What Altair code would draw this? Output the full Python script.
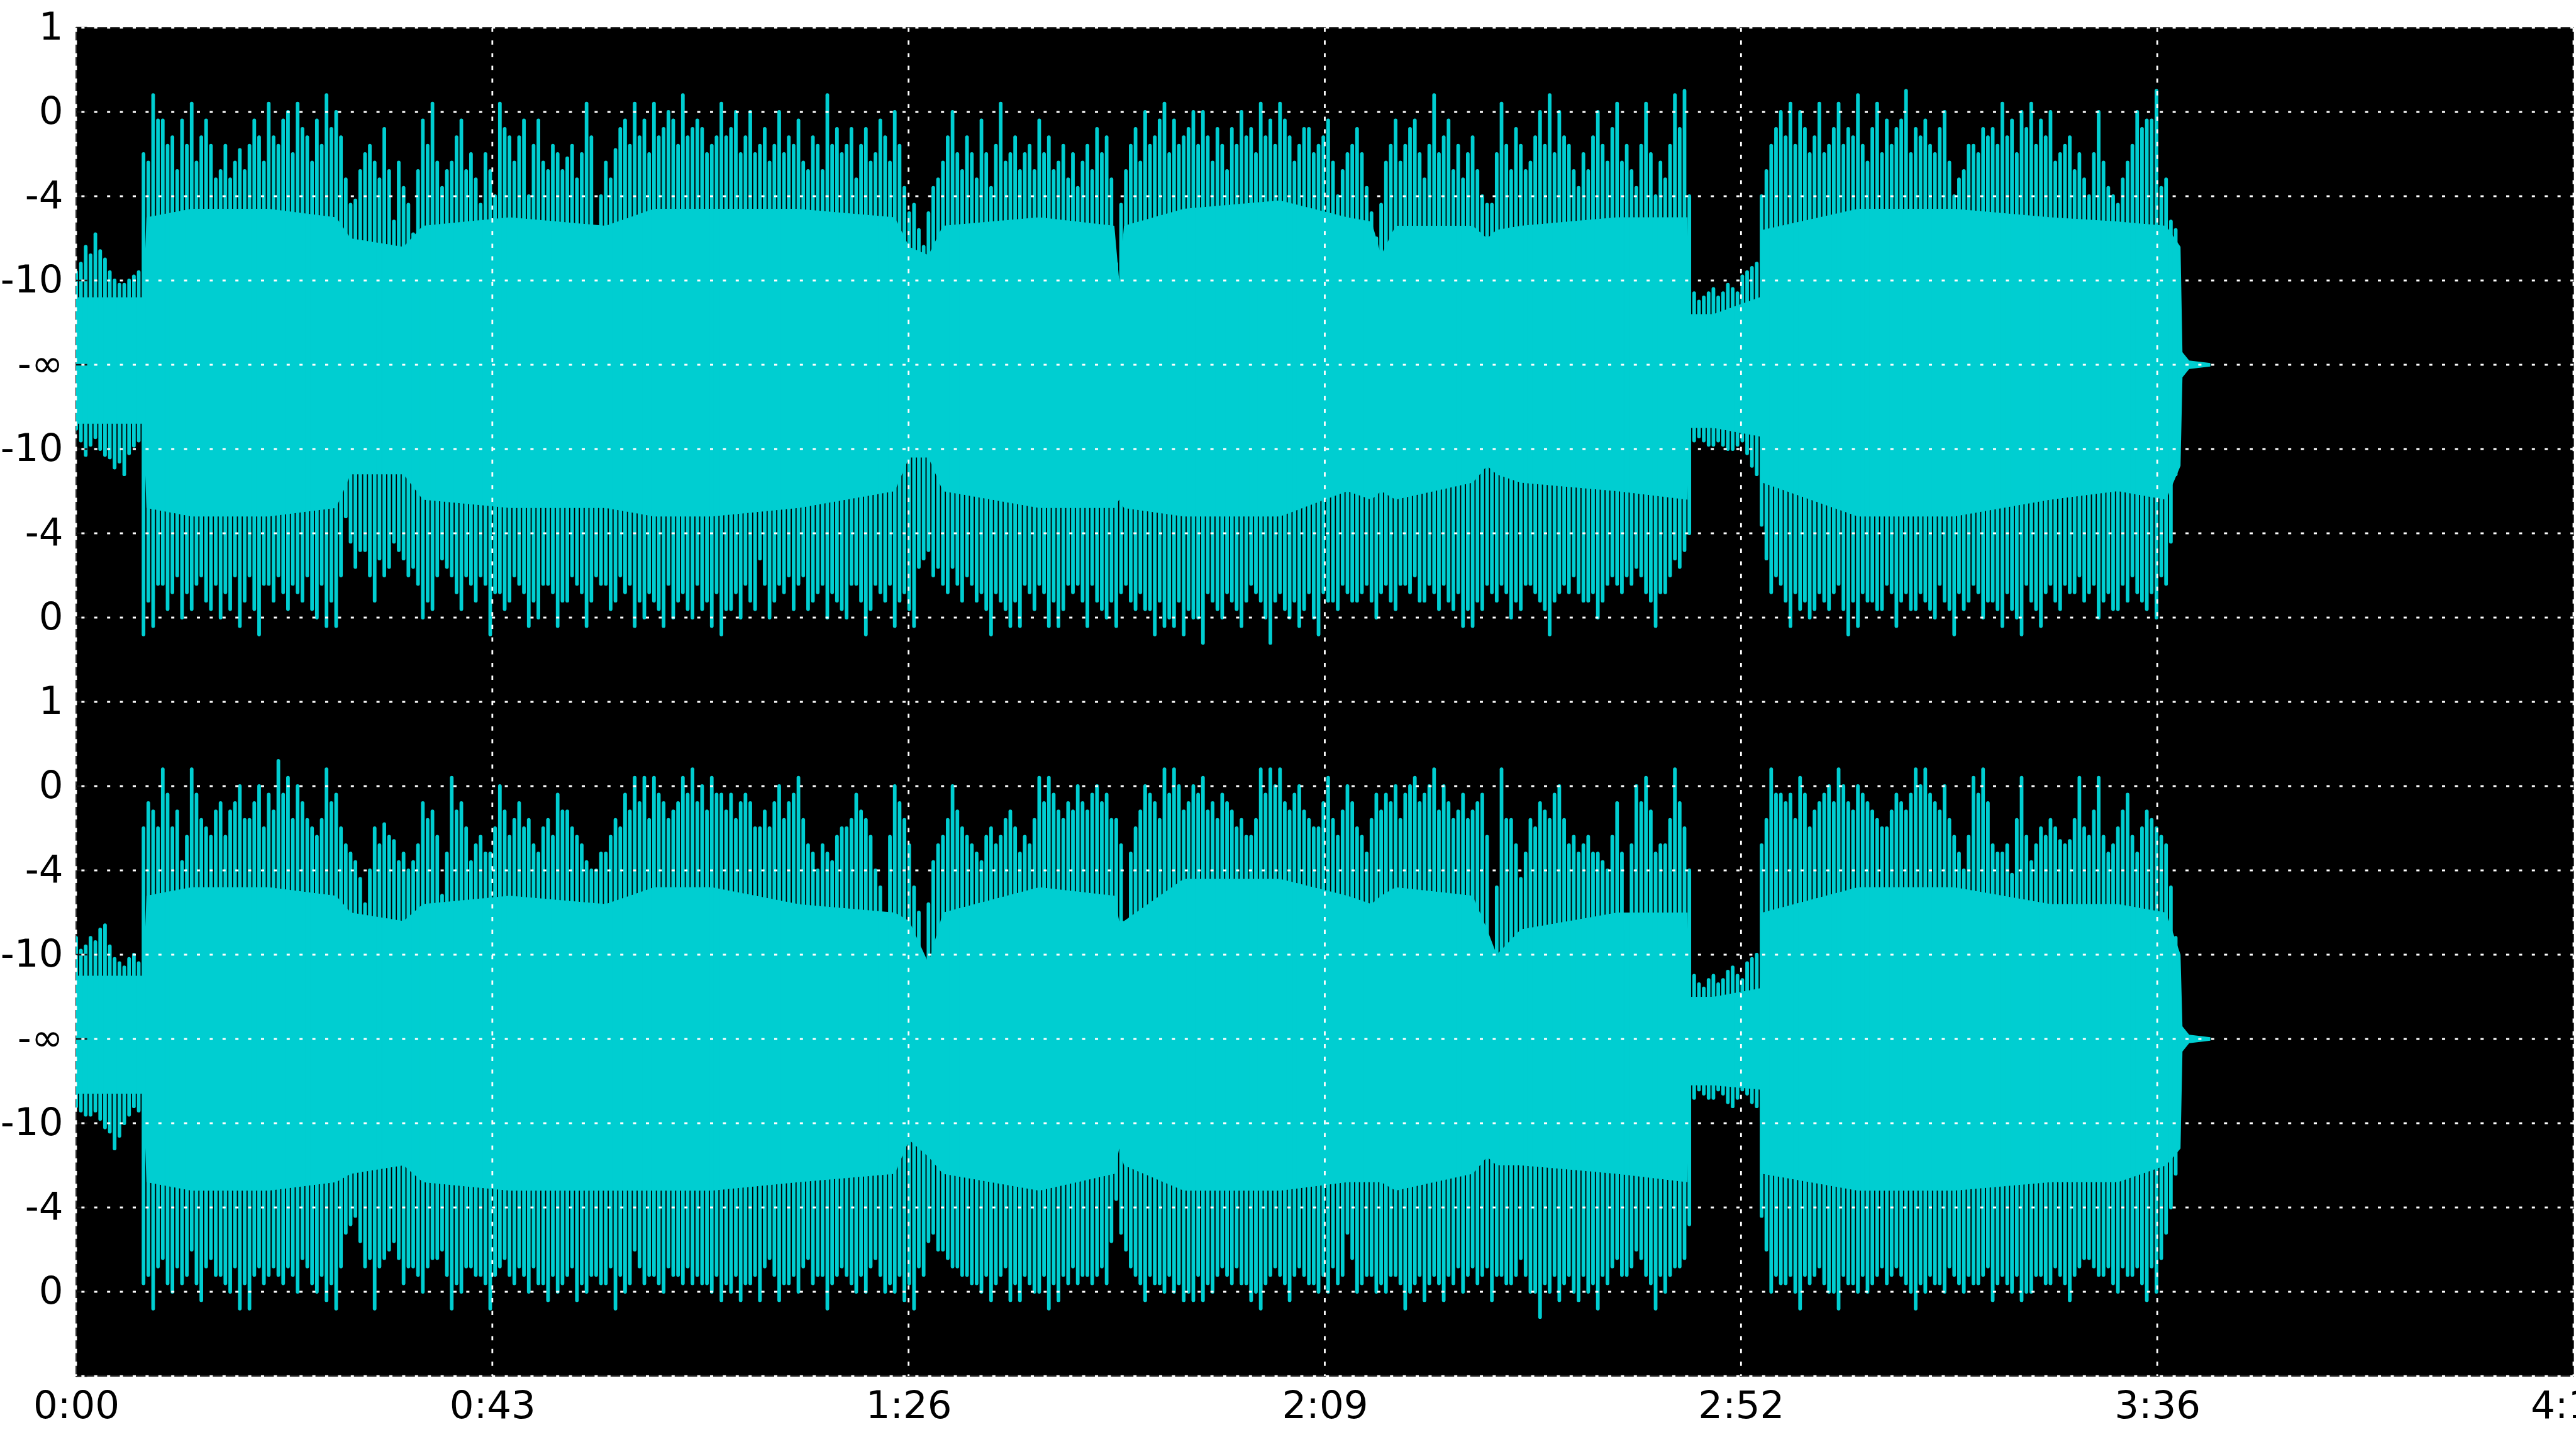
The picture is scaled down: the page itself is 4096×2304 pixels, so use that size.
import altair as alt
import pandas as pd

# ---------------- axes / layout constants ----------------
DURATION = 259.3  # seconds shown on the time axis
X_TICK_LABELS = ["0:00", "0:43", "1:26", "2:09", "2:52", "3:36", "4:19"]
Y_TICK_LABELS = ["", "0", "-4", "-10", "-∞", "-10", "-4", "0",
                 "1", "0", "-4", "-10", "-∞", "-10", "-4", "0", "1"]
CENTER_TOP = 12   # channel 1 centre line (-∞)
CENTER_BOT = 4    # channel 2 centre line (-∞)
CYAN = "#00CED1"

# ---------------- body envelope (solid part of the waveform) ----------------
BODY_T = [0, 7.0, 7.3, 12, 20, 27, 28.5, 34, 36, 45, 55, 60, 66, 75, 85, 86.5, 88.5, 90,
          100, 107.8, 108.3, 108.8, 115, 125, 132, 134.5, 135.5, 137, 145, 146.5, 147.5,
          150, 160, 167.3, 167.6, 170, 174.8, 175.1, 185, 195, 205, 212, 217, 218.5,
          218.7, 219.4, 221.6]
TOP_BODY_UP = [0.8, 0.8, 1.75, 1.85, 1.85, 1.75, 1.5, 1.4, 1.65, 1.75, 1.65, 1.85, 1.85,
               1.85, 1.75, 1.4, 1.3, 1.65, 1.75, 1.65, 1.0, 1.65, 1.85, 1.95, 1.75, 1.7,
               1.3, 1.65, 1.65, 1.5, 1.6, 1.65, 1.75, 1.75, 0.6, 0.6, 0.8, 1.6, 1.85, 1.85,
               1.75, 1.7, 1.65, 1.4, 0.15, 0.05, 0.02]
TOP_BODY_DN = [0.7, 0.7, 1.7, 1.8, 1.8, 1.7, 1.3, 1.3, 1.6, 1.7, 1.7, 1.8, 1.8, 1.7, 1.5,
               1.1, 1.1, 1.5, 1.7, 1.7, 1.6, 1.7, 1.8, 1.8, 1.5, 1.6, 1.5, 1.6, 1.4, 1.2,
               1.3, 1.4, 1.5, 1.6, 0.75, 0.75, 0.85, 1.4, 1.8, 1.8, 1.6, 1.5, 1.6, 1.2, 0.15,
               0.05, 0.02]
BOT_BODY_UP = [0.75, 0.75, 1.7, 1.8, 1.8, 1.7, 1.5, 1.4, 1.6, 1.7, 1.6, 1.8, 1.8, 1.6, 1.5,
               1.4, 0.9, 1.5, 1.8, 1.7, 1.4, 1.4, 1.9, 1.9, 1.7, 1.6, 1.7, 1.8, 1.7, 1.3,
               1.0, 1.3, 1.5, 1.5, 0.5, 0.5, 0.6, 1.5, 1.8, 1.8, 1.6, 1.6, 1.5, 1.0, 0.15,
               0.05, 0.02]
BOT_BODY_DN = [0.65, 0.65, 1.7, 1.8, 1.8, 1.7, 1.6, 1.5, 1.7, 1.8, 1.8, 1.8, 1.8, 1.7, 1.6,
               1.2, 1.4, 1.6, 1.8, 1.6, 1.3, 1.5, 1.8, 1.8, 1.7, 1.7, 1.7, 1.8, 1.6, 1.4,
               1.5, 1.5, 1.6, 1.7, 0.55, 0.55, 0.6, 1.6, 1.8, 1.8, 1.7, 1.7, 1.5, 1.3, 0.15,
               0.05, 0.02]

# ---------------- peaks read on whole seconds (segments start at 0, 67, 133, 199 s) ----
SEG_START = [0, 67, 133, 199]

TOP_UP = [
    [1.1, 1.4, 1.55, 1.25, 1.0, 0.95, 1.05,
     2.5, 3.2, 2.9, 2.7, 2.9, 3.1, 2.7, 2.6, 2.3, 2.2, 2.55, 2.6, 2.7, 3.1, 2.6, 3.0, 3.1,
     2.7, 2.9, 3.2, 3.0, 2.2, 1.95, 2.5, 2.4, 2.8, 1.7, 2.1, 1.55, 2.9, 3.1, 2.1, 2.4, 2.9,
     2.5, 1.9, 2.3, 3.1, 2.7, 2.7, 2.0, 2.9, 2.3, 2.5, 2.45, 2.2, 3.1, 1.3, 2.4, 2.55, 2.9,
     3.1, 2.9, 3.1, 2.8, 2.9, 3.2, 2.8, 2.8, 2.6],
    [3.1, 2.8, 2.5, 3.0, 2.6, 2.4, 3.0, 2.7, 2.9, 2.3, 2.6, 3.2, 2.8, 2.6, 2.2, 2.8, 2.5,
     2.7, 3.0, 2.1, 1.9, 1.4, 2.1, 2.4, 3.0, 2.3, 2.5, 2.9, 2.1, 3.1, 2.5, 2.3, 2.6, 2.9,
     2.7, 2.4, 2.2, 2.1, 2.6, 2.8, 2.7, 1.2, 2.3, 2.8, 3.0, 2.7, 3.1, 2.9, 2.7, 3.0, 3.0,
     2.4, 2.6, 2.8, 3.0, 2.8, 3.1, 2.9, 3.1, 2.7, 2.6, 2.8, 2.6, 2.9, 2.0, 2.5],
    [2.8, 2.1, 1.5, 2.4, 2.9, 2.6, 2.9, 2.2, 3.2, 2.7, 2.3, 2.2, 2.7, 2.0, 1.9, 3.1, 2.3,
     2.6, 2.4, 3.0, 3.2, 3.0, 2.6, 2.1, 2.3, 3.0, 2.4, 3.1, 2.6, 2.1, 3.1, 2.0, 2.2, 3.2,
     3.25, 0.85, 0.8, 0.9, 0.85, 0.9, 1.05, 1.15, 2.0, 2.6, 3.0, 3.1, 3.0, 2.5, 3.1, 2.6,
     3.1, 2.8, 3.2, 2.4, 3.1, 2.9, 2.8, 3.25, 2.8, 2.9, 2.5, 3.0, 2.0, 2.3, 2.6, 2.8],
    [2.8, 3.1, 2.9, 3.0, 3.1, 2.9, 3.0, 2.5, 2.7, 2.5, 2.0, 3.0, 2.1, 1.9, 2.4, 3.0, 2.9,
     3.25, 2.2, 1.6],
]
TOP_DN = [
    [0.76, 1.07, 0.86, 1.07, 1.22, 1.3, 0.96,
     3.2, 3.1, 2.6, 2.7, 3.0, 2.9, 2.5, 2.9, 3.0, 2.9, 3.1, 2.5, 3.2, 2.6, 2.5, 2.9, 2.7,
     2.5, 3.0, 3.1, 3.1, 1.8, 2.4, 2.2, 2.8, 2.5, 2.1, 2.3, 2.4, 3.0, 2.9, 2.3, 2.5, 2.9,
     2.6, 2.5, 3.2, 2.7, 2.8, 2.6, 3.1, 3.0, 2.6, 3.1, 2.8, 2.6, 3.1, 2.5, 2.6, 2.8, 2.7,
     3.1, 3.0, 2.8, 3.1, 3.0, 2.7, 3.0, 2.9, 3.1],
    [3.2, 2.9, 3.0, 2.8, 2.3, 3.0, 2.6, 2.5, 2.6, 2.9, 2.7, 3.0, 2.8, 3.0, 2.6, 3.2, 2.6,
     2.8, 3.1, 2.7, 3.1, 2.3, 2.5, 2.6, 2.4, 2.8, 2.6, 2.7, 3.2, 2.8, 3.1, 3.1, 2.7, 2.6,
     3.1, 3.1, 2.6, 2.6, 3.1, 2.8, 3.0, 3.1, 2.6, 2.9, 2.9, 3.2, 3.1, 3.1, 3.2, 3.0, 3.3,
     2.8, 3.0, 2.8, 3.1, 2.6, 2.8, 3.3, 2.7, 3.0, 3.1, 2.7, 3.2, 2.8, 2.9, 2.7],
    [2.8, 2.6, 3.0, 2.6, 2.9, 2.6, 2.5, 2.8, 2.7, 2.6, 2.9, 3.1, 3.1, 2.9, 2.7, 2.6, 3.0,
     2.9, 2.6, 2.8, 3.2, 2.7, 2.7, 2.7, 2.8, 3.0, 2.6, 2.6, 2.5, 2.4, 2.7, 3.1, 2.7, 2.3,
     2.2, 0.9, 0.9, 0.95, 0.95, 1.0, 0.9, 1.2, 1.9, 2.7, 2.6, 3.1, 2.9, 3.0, 2.7, 2.9, 2.6,
     3.2, 3.1, 2.8, 2.9, 2.6, 3.1, 2.7, 2.9, 2.8, 3.0, 2.8, 3.2, 2.9, 2.6, 3.0],
    [2.8, 3.1, 2.9, 3.2, 2.8, 3.1, 2.6, 2.9, 2.7, 2.5, 2.7, 3.0, 2.7, 2.9, 2.8, 2.7, 2.9,
     3.0, 2.6, 1.3],
]
BOT_UP = [
    [1.2, 1.1, 1.15, 1.35, 0.95, 0.85, 1.0,
     2.5, 2.7, 3.2, 2.5, 2.1, 3.2, 2.6, 2.4, 2.8, 2.7, 3.0, 2.6, 3.0, 2.9, 3.3, 3.1, 3.0,
     2.6, 2.4, 3.2, 2.9, 2.3, 2.1, 1.6, 2.5, 2.55, 2.35, 2.2, 2.1, 2.8, 2.7, 1.7, 3.1, 2.8,
     2.1, 2.4, 2.2, 3.0, 2.4, 2.8, 2.6, 2.2, 2.6, 2.9, 2.7, 2.4, 2.1, 2.0, 2.2, 2.6, 2.9,
     3.1, 3.1, 3.1, 2.8, 2.7, 3.1, 3.2, 3.0, 3.1],
    [2.9, 2.9, 2.8, 2.8, 2.5, 2.5, 3.0, 2.8, 3.1, 2.3, 2.0, 2.2, 2.4, 2.5, 2.9, 2.6, 2.0,
     1.2, 3.0, 2.6, 1.8, 0.8, 2.1, 2.4, 3.0, 2.5, 2.3, 2.1, 2.5, 2.4, 2.7, 2.2, 2.3, 3.1,
     3.1, 2.7, 2.8, 3.0, 2.7, 3.0, 2.9, 2.6, 1.3, 2.5, 3.0, 2.8, 3.2, 3.2, 2.7, 3.0, 3.1,
     2.8, 2.9, 2.7, 2.6, 2.4, 3.2, 3.2, 3.2, 2.7, 3.0, 2.6, 2.5, 3.1, 2.4, 3.0],
    [2.5, 2.2, 2.9, 2.9, 3.0, 2.9, 3.1, 2.9, 3.2, 3.0, 2.6, 2.9, 2.7, 2.9, 0.9, 3.2, 2.6,
     1.9, 2.6, 2.8, 2.6, 3.0, 2.3, 2.2, 2.4, 2.2, 2.0, 2.8, 1.3, 3.0, 3.1, 2.2, 2.3, 3.2,
     2.5, 0.75, 0.6, 0.75, 0.7, 0.85, 0.7, 0.95, 2.3, 3.2, 2.9, 2.9, 3.1, 2.5, 2.8, 3.0,
     3.2, 2.8, 3.0, 2.8, 2.6, 2.5, 2.9, 2.7, 3.2, 3.2, 2.8, 3.0, 2.4, 2.0, 3.1, 3.2],
    [2.3, 2.2, 1.95, 3.1, 2.1, 2.5, 2.6, 2.35, 2.35, 3.1, 2.4, 3.1, 2.2, 2.5, 2.9, 2.2, 2.7,
     2.5, 2.3, 1.2],
]
BOT_DN = [
    [0.8, 0.9, 0.85, 1.05, 1.3, 1.0, 0.8,
     2.9, 3.2, 2.6, 3.0, 2.9, 2.5, 3.1, 2.6, 2.8, 3.0, 3.2, 3.2, 2.7, 2.8, 2.8, 2.7, 3.0,
     2.7, 3.0, 3.1, 3.2, 2.3, 2.1, 2.7, 3.2, 2.6, 2.4, 2.9, 2.7, 3.0, 2.6, 2.5, 3.2, 3.0,
     2.7, 2.8, 3.2, 2.7, 2.8, 2.7, 3.0, 2.9, 3.1, 3.0, 2.8, 3.1, 3.0, 2.8, 2.9, 3.2, 3.0,
     2.5, 2.9, 2.8, 3.0, 2.8, 2.9, 2.9, 2.9, 3.0],
    [3.1, 3.0, 3.1, 2.9, 3.1, 2.6, 3.1, 2.9, 3.0, 2.6, 2.8, 3.2, 2.8, 2.8, 3.0, 3.0, 2.6,
     3.0, 3.0, 3.1, 3.2, 2.8, 2.3, 2.5, 2.7, 2.8, 2.9, 3.0, 3.1, 2.8, 3.1, 3.1, 2.9, 3.0,
     3.2, 3.1, 2.9, 2.9, 2.8, 2.8, 2.9, 1.9, 2.5, 2.8, 3.1, 2.9, 3.0, 3.0, 3.1, 3.1, 3.1,
     3.0, 2.7, 2.9, 2.9, 3.1, 3.2, 2.8, 2.8, 3.1, 2.7, 2.9, 3.0, 3.0, 2.9, 2.3],
    [3.0, 2.8, 3.0, 3.0, 2.8, 3.2, 2.9, 3.1, 2.8, 3.1, 2.9, 3.0, 2.7, 2.8, 3.1, 2.8, 2.9,
     2.6, 3.0, 3.3, 3.0, 3.1, 2.8, 3.1, 3.0, 3.2, 2.9, 2.6, 2.8, 2.5, 2.8, 3.2, 3.0, 2.7,
     2.6, 0.7, 0.65, 0.7, 0.65, 0.8, 0.6, 0.75, 2.1, 3.0, 2.9, 2.8, 3.2, 2.9, 2.7, 3.0,
     3.2, 2.9, 3.0, 3.0, 2.8, 2.9, 2.7, 2.9, 3.2, 3.0, 2.9, 3.0, 2.8, 3.0, 2.9, 2.8],
    [3.1, 2.8, 3.0, 3.1, 3.0, 2.8, 2.9, 2.8, 3.1, 2.7, 2.6, 2.8, 2.7, 3.0, 2.8, 2.7, 3.1,
     3.0, 2.3, 1.6],
]

# ---------------- peaks read on half seconds (segments start at 0.5, 67.5, 133.5, 199.5 s) ----
SEG_START_HALF = [0.5, 67.5, 133.5, 199.5]

TOP_UP_HALF = [
    [1.2, 1.3, 1.35, 1.1, 0.95, 1.0, 1.1,
     2.4, 2.9, 2.6, 2.3, 2.6, 2.4, 2.9, 2.2, 2.6, 2.4, 2.3, 2.9, 2.4, 2.7, 2.9, 2.5, 2.8,
     2.4, 2.6, 2.8, 2.7, 1.9, 2.3, 2.6, 2.2, 2.3, 2.4, 1.9, 2.3, 2.6, 2.4, 2.3, 2.7, 2.3,
     2.2, 2.5, 2.0, 2.8, 2.4, 2.9, 2.6, 2.4, 2.6, 2.3, 2.6, 2.5, 2.7, 2.0, 2.2, 2.8, 2.6,
     2.7, 2.5, 2.7, 3.0, 2.6, 2.7, 2.9, 2.5, 2.7],
    [2.7, 3.0, 2.7, 2.5, 2.8, 2.6, 2.5, 2.6, 2.4, 2.7, 2.3, 2.6, 2.5, 2.8, 2.6, 2.4, 2.9,
     2.4, 2.6, 1.8, 1.6, 1.8, 2.2, 2.7, 2.5, 2.7, 2.2, 2.5, 2.6, 2.4, 2.7, 2.5, 2.3, 2.5,
     2.3, 2.6, 2.5, 2.4, 2.3, 2.5, 2.2, 1.9, 2.6, 2.4, 2.6, 2.9, 2.5, 2.6, 2.8, 2.6, 2.7,
     2.8, 2.3, 2.6, 2.7, 2.5, 2.7, 2.6, 2.9, 2.4, 2.8, 2.5, 2.7, 2.4, 2.3, 2.6],
    [2.5, 1.8, 1.9, 2.6, 2.4, 2.8, 2.5, 2.6, 2.5, 2.9, 2.6, 2.5, 2.3, 1.9, 2.5, 2.6, 2.8,
     2.3, 2.7, 2.6, 2.5, 2.7, 2.3, 2.5, 2.7, 2.6, 2.8, 2.4, 2.3, 2.6, 2.5, 2.4, 2.6, 2.8,
     2.0, 0.75, 0.85, 0.8, 0.95, 0.85, 1.1, 1.2, 2.3, 2.8, 2.7, 2.6, 2.8, 2.7, 2.5, 2.8,
     2.6, 2.7, 2.6, 2.8, 2.5, 2.6, 2.9, 2.5, 2.7, 2.6, 2.8, 2.4, 2.2, 2.6, 2.5, 2.7],
    [2.6, 2.7, 2.5, 2.8, 2.6, 2.7, 2.4, 2.6, 2.3, 2.2, 2.5, 2.4, 2.0, 2.2, 2.6, 2.8, 2.9,
     2.1, 1.7],
]
TOP_DN_HALF = [
    [0.9, 0.95, 1.0, 1.1, 1.15, 1.05, 0.9,
     2.8, 2.6, 2.9, 2.5, 2.7, 2.6, 2.8, 2.6, 2.7, 2.5, 2.8, 2.9, 2.6, 2.8, 2.7, 2.6, 2.8,
     2.9, 2.6, 2.8, 2.5, 2.1, 2.2, 2.5, 2.3, 2.4, 2.2, 2.5, 2.6, 2.8, 2.5, 2.4, 2.7, 2.5,
     2.8, 2.6, 2.7, 2.9, 2.5, 2.7, 2.8, 2.6, 2.7, 2.8, 2.5, 2.7, 2.8, 2.6, 2.9, 2.5, 2.6,
     2.8, 2.7, 2.9, 2.6, 2.8, 2.9, 2.6, 2.8, 2.7],
    [2.9, 2.7, 2.6, 2.9, 2.6, 2.8, 2.7, 2.9, 2.5, 2.8, 2.6, 2.7, 2.9, 2.6, 2.8, 2.9, 2.7,
     2.6, 2.8, 2.9, 2.4, 2.2, 2.4, 2.7, 2.6, 2.5, 2.8, 2.9, 2.7, 2.9, 2.8, 2.6, 2.9, 2.7,
     2.8, 2.9, 2.7, 2.8, 2.6, 2.9, 2.8, 2.7, 2.8, 2.7, 2.9, 2.8, 3.0, 2.8, 2.9, 3.0, 2.7,
     2.9, 2.7, 2.9, 2.8, 2.7, 3.0, 2.8, 2.9, 2.8, 2.9, 3.0, 2.7, 2.8, 2.6, 2.8],
    [2.7, 2.8, 2.7, 2.8, 2.6, 2.7, 2.8, 2.6, 2.9, 2.8, 2.7, 2.9, 2.8, 2.6, 2.8, 2.7, 2.8,
     2.6, 2.7, 2.9, 2.8, 2.6, 2.5, 2.8, 2.7, 2.8, 2.5, 2.7, 2.6, 2.5, 2.8, 2.7, 2.5, 2.4,
     2.0, 0.85, 0.95, 0.9, 1.0, 0.95, 1.05, 1.3, 2.3, 2.5, 2.8, 2.7, 2.8, 2.9, 2.8, 2.7,
     2.9, 2.8, 2.7, 2.8, 2.9, 2.7, 2.8, 2.9, 2.7, 2.9, 2.6, 2.9, 2.7, 2.8, 2.7, 2.8],
    [2.9, 2.7, 3.0, 2.6, 2.9, 2.7, 2.8, 2.6, 2.7, 2.8, 2.6, 2.8, 2.9, 2.6, 2.5, 2.8, 2.7,
     2.5, 2.1],
]
BOT_UP_HALF = [
    [1.05, 1.2, 1.3, 1.1, 0.9, 0.95, 0.9,
     2.8, 2.5, 2.9, 2.7, 2.4, 2.9, 2.5, 2.7, 2.4, 2.8, 2.6, 2.8, 2.5, 2.7, 2.9, 2.6, 2.8,
     2.5, 2.6, 2.8, 2.5, 2.2, 1.9, 2.0, 2.3, 2.4, 2.1, 2.0, 2.3, 2.6, 2.4, 2.2, 2.7, 2.5,
     2.3, 2.2, 2.5, 2.7, 2.6, 2.5, 2.3, 2.5, 2.4, 2.7, 2.5, 2.3, 2.0, 2.2, 2.4, 2.5, 2.7,
     2.8, 2.6, 2.9, 2.6, 2.8, 2.9, 2.8, 2.7, 2.9],
    [2.7, 2.6, 2.9, 2.5, 2.7, 2.8, 2.6, 2.9, 2.6, 2.2, 2.3, 2.1, 2.5, 2.6, 2.7, 2.4, 1.8,
     2.4, 2.8, 2.3, 1.5, 1.6, 2.3, 2.6, 2.7, 2.4, 2.2, 2.4, 2.3, 2.6, 2.5, 2.4, 2.6, 2.8,
     2.9, 2.6, 2.7, 2.8, 2.9, 2.8, 2.6, 2.3, 2.2, 2.7, 2.9, 2.6, 2.9, 3.0, 2.8, 2.9, 2.7,
     2.6, 2.8, 2.5, 2.4, 2.6, 2.9, 3.0, 2.8, 2.9, 2.7, 2.5, 2.8, 2.6, 2.7, 2.8],
    [2.4, 2.6, 2.7, 2.8, 2.6, 3.0, 2.8, 3.0, 2.7, 2.8, 2.7, 2.6, 2.8, 2.4, 1.8, 2.6, 2.3,
     2.2, 2.5, 2.7, 2.9, 2.6, 2.4, 2.3, 2.2, 2.1, 2.4, 2.2, 2.3, 2.8, 2.7, 2.3, 2.6, 2.8,
     2.0, 0.65, 0.7, 0.65, 0.8, 0.75, 0.9, 1.0, 2.6, 2.9, 2.8, 2.6, 2.9, 2.7, 2.9, 2.8,
     3.0, 2.7, 2.9, 2.7, 2.5, 2.7, 2.8, 2.9, 3.0, 2.9, 2.7, 2.6, 2.2, 2.4, 2.9, 2.8],
    [2.2, 2.3, 2.6, 2.4, 2.3, 2.4, 2.5, 2.3, 2.6, 2.5, 2.7, 2.4, 2.3, 2.7, 2.4, 2.5, 2.6,
     2.4, 1.8],
]
BOT_DN_HALF = [
    [0.85, 0.9, 0.95, 1.1, 1.15, 0.9, 0.85,
     2.8, 2.7, 2.9, 2.7, 2.8, 2.9, 2.7, 2.8, 2.9, 2.7, 2.9, 2.8, 2.9, 2.7, 2.9, 2.8, 2.6,
     2.9, 2.8, 2.9, 2.7, 2.2, 2.4, 2.6, 2.7, 2.5, 2.6, 2.7, 2.8, 2.7, 2.6, 2.8, 2.9, 2.7,
     2.8, 2.9, 2.8, 2.6, 2.9, 2.8, 2.7, 2.9, 2.8, 2.9, 2.7, 2.9, 2.8, 2.9, 2.7, 2.8, 2.9,
     2.7, 2.8, 2.9, 2.7, 2.8, 2.7, 2.8, 2.9, 2.8],
    [2.9, 2.8, 2.9, 2.8, 2.7, 2.8, 2.9, 2.8, 2.7, 2.9, 2.8, 2.9, 2.7, 2.9, 2.8, 2.7, 2.8,
     2.9, 2.8, 2.9, 2.7, 2.4, 2.5, 2.6, 2.7, 2.8, 2.9, 2.8, 2.9, 2.7, 2.9, 2.8, 3.0, 2.8,
     2.9, 2.8, 2.7, 2.8, 2.9, 2.7, 2.4, 2.3, 2.7, 2.9, 2.8, 2.9, 2.8, 2.9, 3.0, 2.8, 2.9,
     2.8, 2.8, 2.7, 2.9, 3.0, 2.9, 2.7, 2.9, 2.8, 2.8, 2.9, 2.8, 2.7, 2.8, 2.6],
    [2.9, 2.8, 2.9, 2.8, 2.9, 3.0, 2.8, 2.9, 2.9, 2.8, 2.7, 2.8, 2.9, 2.7, 2.8, 2.9, 2.8,
     2.8, 3.0, 2.9, 2.8, 2.9, 3.0, 2.8, 2.9, 2.8, 2.7, 2.8, 2.7, 2.6, 2.9, 2.8, 2.8, 2.7,
     2.2, 0.6, 0.7, 0.6, 0.75, 0.7, 0.65, 0.8, 2.5, 2.8, 2.9, 3.0, 2.8, 2.8, 2.9, 3.0,
     2.8, 2.9, 2.8, 2.9, 2.7, 2.8, 2.8, 3.0, 2.9, 2.8, 2.9, 2.7, 2.9, 2.8, 2.9, 2.7],
    [2.9, 2.9, 2.8, 3.0, 2.8, 2.9, 2.7, 2.9, 2.8, 2.6, 2.7, 2.8, 2.9, 2.7, 2.8, 2.9, 2.7,
     2.6, 2.0],
]

# ---------------- build tables ----------------
body_rows = []
for ch, c, up, dn in [("L", CENTER_TOP, TOP_BODY_UP, TOP_BODY_DN),
                      ("R", CENTER_BOT, BOT_BODY_UP, BOT_BODY_DN)]:
    for t, u, d in zip(BODY_T, up, dn):
        body_rows.append({"ch": ch, "t": t, "y": c + u, "y2": c - d})
body_df = pd.DataFrame(body_rows)

spike_rows = []
for starts, groups in [
    (SEG_START, [(CENTER_TOP, TOP_UP, 1), (CENTER_TOP, TOP_DN, -1),
                 (CENTER_BOT, BOT_UP, 1), (CENTER_BOT, BOT_DN, -1)]),
    (SEG_START_HALF, [(CENTER_TOP, TOP_UP_HALF, 1), (CENTER_TOP, TOP_DN_HALF, -1),
                      (CENTER_BOT, BOT_UP_HALF, 1), (CENTER_BOT, BOT_DN_HALF, -1)]),
]:
    for c, segs, sign in groups:
        for start, seg in zip(starts, segs):
            for i, v in enumerate(seg):
                spike_rows.append({"t": start + i, "y": c + sign * v, "y2": c})
spike_df = pd.DataFrame(spike_rows)

x_tick_vals = [DURATION * k / 6 for k in range(7)]
y_tick_vals = list(range(17))
hgrid_df = pd.DataFrame({"y": y_tick_vals})
vgrid_df = pd.DataFrame({"t": x_tick_vals})
tick_df = pd.DataFrame({"y": y_tick_vals, "t": [0.0] * 17, "t2": [1.15] * 17})

x_expr = "[" + ",".join("'%s'" % s for s in X_TICK_LABELS) + "][round(datum.value*6/%s)]" % DURATION
y_expr = "[" + ",".join("'%s'" % s for s in Y_TICK_LABELS) + "][round(datum.value)]"

FONT = "DejaVu Sans"
FS = 61
x_scale = alt.Scale(domain=[0, DURATION], nice=False, zero=False)
y_scale = alt.Scale(domain=[0, 16], nice=False, zero=False)
x_axis = alt.Axis(values=x_tick_vals, labelExpr=x_expr, grid=False, domain=False, ticks=False,
                  labelFontSize=FS, labelFont=FONT, labelColor="black", labelPadding=18,
                  labelFlush=False, labelOverlap=False, title=None)
y_axis = alt.Axis(values=y_tick_vals, labelExpr=y_expr, grid=False, domain=False, ticks=False,
                  labelFontSize=FS, labelFont=FONT, labelColor="black", labelPadding=21,
                  labelOverlap=False, labelFlush=False, title=None)
X = alt.X("t:Q", scale=x_scale, axis=x_axis)
Y = alt.Y("y:Q", scale=y_scale, axis=y_axis)

body = alt.Chart(body_df).mark_area(color=CYAN, interpolate="linear", clip=True, opacity=1).encode(
    x=X, y=Y, y2="y2:Q", detail="ch:N")
spikes = alt.Chart(spike_df).mark_rule(color=CYAN, strokeWidth=5.8, strokeCap="round", clip=True).encode(
    x=X, y=Y, y2="y2:Q")
inticks = alt.Chart(tick_df).mark_rule(color="#111111", strokeWidth=2.5).encode(
    x=X, x2="t2:Q", y=Y)
hgrid = alt.Chart(hgrid_df).mark_rule(color="white", strokeWidth=2.8, strokeDash=[5, 15.4]).encode(y=Y)
vgrid = alt.Chart(vgrid_df).mark_rule(color="white", strokeWidth=2.8, strokeDash=[6.7, 13.5]).encode(x=X)

chart = alt.layer(body, spikes, inticks, hgrid, vgrid).properties(
    width=3971, height=2144, background="white",
    padding={"left": 121, "top": 44, "right": 4, "bottom": 116},
    autosize=alt.AutoSizeParams(type="none"),
).configure_view(fill="black", stroke="#333333", strokeWidth=2)

chart.save("out.html", embed_options={"renderer": "svg", "actions": False})
